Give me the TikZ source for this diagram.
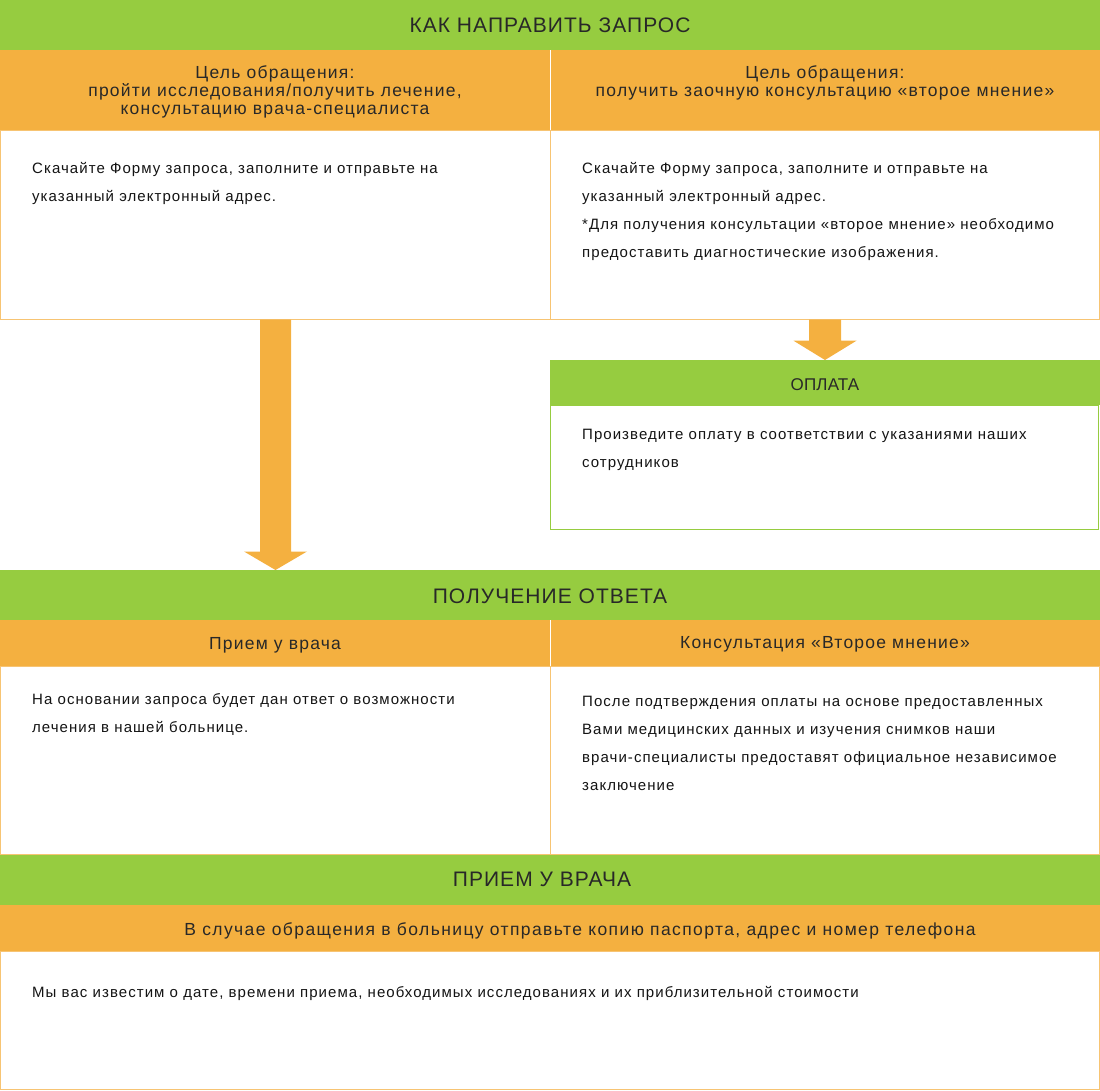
\documentclass[tikz,border=0pt]{standalone}
\usepackage{fontspec}
\setmainfont{Liberation Sans}
\newfontfamily\hdrfont[LetterSpace=5]{Liberation Sans}
\newfontfamily\payfont[LetterSpace=1]{Liberation Sans}
\newfontfamily\subfont[LetterSpace=7]{Liberation Sans}
\newfontfamily\subwidefont[LetterSpace=8]{Liberation Sans}
\newfontfamily\bodyfont[LetterSpace=7]{Liberation Sans}
\usetikzlibrary{calc}
\definecolor{hgreen}{RGB}{150,204,64}
\definecolor{horange}{RGB}{244,176,64}
\definecolor{bline}{RGB}{247,196,115}
\definecolor{tdark}{RGB}{40,40,40}
\definecolor{tbody}{RGB}{20,20,20}
\begin{document}
\begin{tikzpicture}[x=1pt,y=-1pt,
  box/.style={rectangle, anchor=north west, inner sep=0pt, outer sep=0pt},
  greenbar/.style={box, fill=hgreen},
  orangebar/.style={box, fill=horange},
  whitebox/.style={box, fill=white, draw=bline, line width=1pt},
  paybox/.style={box, fill=white, draw=hgreen, line width=1pt},
  divider/.style={draw=white, line width=1pt},
  hdrtext/.style={anchor=base, inner sep=0pt, text=tdark, font=\hdrfont\fontsize{21}{24}\selectfont},
  paytext/.style={anchor=base, inner sep=0pt, text=tdark, font=\payfont\fontsize{17}{20}\selectfont},
  subtext/.style={anchor=base, inner sep=0pt, text=tdark, align=center, font=\subfont\fontsize{17.5}{18}\selectfont},
  bodytext/.style={anchor=base west, inner sep=0pt, text=tbody, align=left, font=\bodyfont\fontsize{15}{28}\selectfont},
  arrowfill/.style={fill=horange, draw=none}]
\useasboundingbox (0,0) rectangle (1100,1090);

% ---- section 1
\node[greenbar, minimum width=1100, minimum height=50] (h1) at (0,0) {};
\node[orangebar, minimum width=550, minimum height=80] (o1L) at (0,50) {};
\node[orangebar, minimum width=550, minimum height=80] (o1R) at (550,50) {};
\draw[divider] ($(o1L.north east)+(0.5,0)$) -- ($(o1L.south east)+(0.5,0)$);
\node[whitebox, minimum width=550, minimum height=189.5] (w1L) at (0.5,130) {};
\node[whitebox, minimum width=549, minimum height=189.5] (w1R) at (550.5,130) {};

% multi-line nodes: the base anchor sits on the last line
\node[hdrtext] (t1) at (550,32.5) {КАК НАПРАВИТЬ ЗАПРОС};
\node[subtext] (s1L) at (275,114.5) {Цель обращения:\\пройти исследования/получить лечение,\\консультацию врача-специалиста};
\node[subtext] (s1R) at (825,96.5) {Цель обращения:\\получить заочную консультацию «второе мнение»};
\node[bodytext] (b1L) at (32,201.3) {Скачайте Форму запроса, заполните и отправьте на\\указанный электронный адрес.};
\node[bodytext] (b1R) at (582,257.3) {Скачайте Форму запроса, заполните и отправьте на\\указанный электронный адрес.\\*Для получения консультации «второе мнение» необходимо\\предоставить диагностические изображения.};

% ---- payment
\node[greenbar, minimum width=550, minimum height=45] (payh) at (550,360) {};
\node[paybox, minimum width=548, minimum height=124] (payw) at (550.5,405) {};
\node[paytext] (payt) at (825,390) {ОПЛАТА};
\node[bodytext] (payb) at (582,467) {Произведите оплату в соответствии с указаниями наших\\сотрудников};

% ---- section 2
\node[greenbar, minimum width=1100, minimum height=50] (h2) at (0,570) {};
\node[orangebar, minimum width=550, minimum height=46] (o2L) at (0,620) {};
\node[orangebar, minimum width=550, minimum height=46] (o2R) at (550,620) {};
\draw[divider] ($(o2L.north east)+(0.5,0)$) -- ($(o2L.south east)+(0.5,0)$);
\node[whitebox, minimum width=550, minimum height=188.5] (w2L) at (0.5,666) {};
\node[whitebox, minimum width=549, minimum height=188.5] (w2R) at (550.5,666) {};

\node[hdrtext] (t2) at (550,603.3) {ПОЛУЧЕНИЕ ОТВЕТА};
\node[subtext] (s2L) at (275,649.5) {Прием у врача};
\node[subtext] (s2R) at (825,648) {Консультация «Второе мнение»};
\node[bodytext] (b2L) at (32,732.7) {На основании запроса будет дан ответ о возможности\\лечения в нашей больнице.};
\node[bodytext] (b2R) at (582,790.7) {После подтверждения оплаты на основе предоставленных\\Вами медицинских данных и изучения снимков наши\\врачи-специалисты предоставят официальное независимое\\заключение};

% ---- section 3
\node[greenbar, minimum width=1100, minimum height=50] (h3) at (0,855) {};
\node[orangebar, minimum width=1100, minimum height=46] (o3) at (0,905) {};
\node[whitebox, minimum width=1099, minimum height=138.5] (w3) at (0.5,951) {};
\node[hdrtext] (t3) at (542,886.7) {ПРИЕМ У ВРАЧА};
\node[subtext, font=\subwidefont\fontsize{17.5}{18}\selectfont] (s3) at (580,935.5) {В случае обращения в больницу отправьте копию паспорта, адрес и номер телефона};
\node[bodytext] (b3) at (32,997.3) {Мы вас известим о дате, времени приема, необходимых исследованиях и их приблизительной стоимости};

% ---- arrows
\coordinate (la) at (w1L.south |- h2.north);
\fill[arrowfill] ($(w1L.south)+(-15.5,0)$) -- ($(w1L.south)+(15.5,0)$)
  -- ($(la)+(15.5,-18.5)$) -- ($(la)+(31.5,-18.5)$) -- (la)
  -- ($(la)+(-31.5,-18.5)$) -- ($(la)+(-15.5,-18.5)$) -- cycle;
\coordinate (ra) at (w1R.south |- payh.north);
\fill[arrowfill] ($(w1R.south)+(-16,0)$) -- ($(w1R.south)+(16,0)$)
  -- ($(ra)+(16,-19.3)$) -- ($(ra)+(31.5,-19.3)$) -- (ra)
  -- ($(ra)+(-31.5,-19.3)$) -- ($(ra)+(-16,-19.3)$) -- cycle;
\end{tikzpicture}
\end{document}
